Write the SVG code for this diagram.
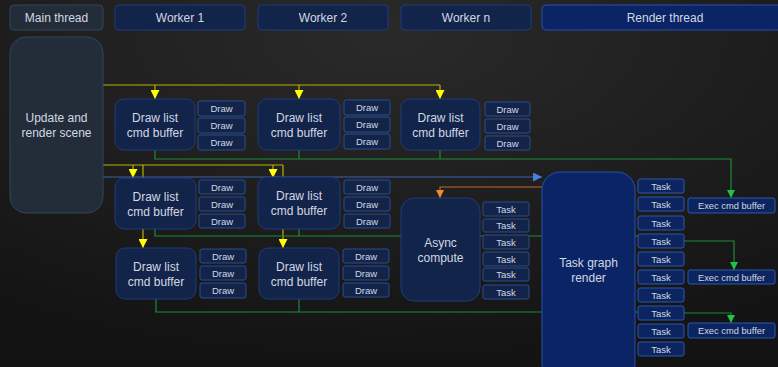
<svg xmlns="http://www.w3.org/2000/svg" width="778" height="367" viewBox="0 0 778 367">
  <defs>
    <radialGradient id="bg" cx="0.5" cy="0.1" r="0.9">
      <stop offset="0" stop-color="#2a2a2a"/>
      <stop offset="1" stop-color="#131313"/>
    </radialGradient>
    <marker id="arrY" viewBox="0 0 10 10" refX="10" refY="5" markerWidth="9" markerHeight="9" markerUnits="userSpaceOnUse" orient="auto">
      <path d="M0,0 L10,5 L0,10 Z" fill="#ffff00"/>
    </marker>
    <marker id="arrG" viewBox="0 0 10 10" refX="10" refY="5" markerWidth="8" markerHeight="8" markerUnits="userSpaceOnUse" orient="auto">
      <path d="M0,0 L10,5 L0,10 Z" fill="#22c24a"/>
    </marker>
    <marker id="arrB" viewBox="0 0 10 10" refX="10" refY="5" markerWidth="9" markerHeight="9" markerUnits="userSpaceOnUse" orient="auto">
      <path d="M0,0 L10,5 L0,10 Z" fill="#4a7fe0"/>
    </marker>
    <marker id="arrO" viewBox="0 0 10 10" refX="10" refY="5" markerWidth="8" markerHeight="8" markerUnits="userSpaceOnUse" orient="auto">
      <path d="M0,0 L10,5 L0,10 Z" fill="#f08a30"/>
    </marker>
  </defs>
  <style>
    text { font-family: "Liberation Sans", Arial, sans-serif; fill: #d2d8e2; text-anchor: middle; }
    .hdr { font-size: 12px; }
    .big { font-size: 12px; }
    .sm { font-size: 9.5px; }
    .ex { font-size: 9.3px; }
    .main { fill: #232d3a; stroke: #34445a; stroke-width: 1; }
    .worker { fill: #13244a; stroke: #1f3c78; stroke-width: 1; }
    .render { fill: #0a2466; stroke: #2a4fa6; stroke-width: 1; }
    .item { fill: #13244a; stroke: #2a4d8f; stroke-width: 1; }
    .ritem { fill: #0c2560; stroke: #2f56a8; stroke-width: 1; }
    .y { fill: none; stroke: #b8b400; stroke-width: 1.2; }
    .g { fill: none; stroke: #1e8a3a; stroke-width: 1.2; }
    .b { fill: none; stroke: #3a62b0; stroke-width: 1.2; }
    .o { fill: none; stroke: #c06a2a; stroke-width: 1.2; }
  </style>

  <rect x="0" y="0" width="778" height="367" fill="url(#bg)"/>

  <g id="connectors">
    <!-- main thread fan-out to first row of workers -->
    <path class="y" d="M103,85 H440"/>
    <path class="y" d="M155,85 V99" marker-end="url(#arrY)"/>
    <path class="y" d="M299,85 V99" marker-end="url(#arrY)"/>
    <path class="y" d="M440,85 V99" marker-end="url(#arrY)"/>
    <!-- main thread fan-out to second and third rows -->
    <path class="y" d="M103,165 H283"/>
    <path class="y" d="M133,165 V178" marker-end="url(#arrY)"/>
    <path class="y" d="M273,165 V178" marker-end="url(#arrY)"/>
    <path class="y" d="M143,165 V248" marker-end="url(#arrY)"/>
    <path class="y" d="M283,165 V248" marker-end="url(#arrY)"/>
    <!-- main thread to render thread -->
    <path class="b" d="M103,177 H542" marker-end="url(#arrB)"/>
    <!-- render thread kicks async compute -->
    <path class="o" d="M542,187 H440 V198" marker-end="url(#arrO)"/>
    <!-- first row results to exec cmd buffer -->
    <path class="g" d="M155,150 V159 H731 V198" marker-end="url(#arrG)"/>
    <path class="g" d="M299,150 V159"/>
    <path class="g" d="M440,150 V159"/>
    <!-- second row results -->
    <path class="g" d="M155,229 V236 H638"/>
    <path class="g" d="M299,229 V236"/>
    <!-- third row results -->
    <path class="g" d="M156,299 V312 H638"/>
    <path class="g" d="M299,299 V312"/>
    <!-- tasks to exec cmd buffers -->
    <path class="g" d="M684,241 H734 V270" marker-end="url(#arrG)"/>
    <path class="g" d="M684,313 H731 V323" marker-end="url(#arrG)"/>
  </g>

  <!-- column headers -->
  <g id="hdr-main"><rect class="main" x="10" y="5" width="93" height="25" rx="4"/><text class="hdr" x="56.5" y="22">Main thread</text></g>
  <g id="hdr-worker1"><rect class="worker" x="115" y="5" width="130" height="25" rx="4"/><text class="hdr" x="180" y="22">Worker 1</text></g>
  <g id="hdr-worker2"><rect class="worker" x="258" y="5" width="130" height="25" rx="4"/><text class="hdr" x="323" y="22">Worker 2</text></g>
  <g id="hdr-workern"><rect class="worker" x="401" y="5" width="130" height="25" rx="4"/><text class="hdr" x="466" y="22">Worker n</text></g>
  <g id="hdr-render"><rect class="render" x="542" y="5" width="245" height="25" rx="4"/><text class="hdr" x="665" y="22">Render thread</text></g>

  <!-- main thread -->
  <g id="update-render-scene">
    <rect class="main" x="10" y="37" width="93" height="176" rx="16"/>
    <text class="big" x="56.5" y="122">Update and</text>
    <text class="big" x="56.5" y="137">render scene</text>
  </g>

  <!-- worker 1 -->
  <g id="w1-r1">
    <rect class="worker" x="115" y="99" width="80" height="51" rx="9"/>
    <text class="big" x="155" y="122">Draw list</text><text class="big" x="155" y="137">cmd buffer</text>
    <rect class="item" x="198" y="101" width="47" height="15" rx="2"/><text class="sm" x="221.5" y="112">Draw</text>
    <rect class="item" x="198" y="118" width="47" height="15" rx="2"/><text class="sm" x="221.5" y="129">Draw</text>
    <rect class="item" x="198" y="135" width="47" height="15" rx="2"/><text class="sm" x="221.5" y="146">Draw</text>
  </g>
  <g id="w1-r2">
    <rect class="worker" x="115" y="178" width="81" height="51" rx="9"/>
    <text class="big" x="155.5" y="201">Draw list</text><text class="big" x="155.5" y="216">cmd buffer</text>
    <rect class="item" x="199" y="180" width="46" height="14" rx="2"/><text class="sm" x="222" y="190.5">Draw</text>
    <rect class="item" x="199" y="197" width="46" height="14" rx="2"/><text class="sm" x="222" y="207.5">Draw</text>
    <rect class="item" x="199" y="214" width="46" height="14" rx="2"/><text class="sm" x="222" y="224.5">Draw</text>
  </g>
  <g id="w1-r3">
    <rect class="worker" x="116" y="248" width="80" height="51" rx="9"/>
    <text class="big" x="156" y="271">Draw list</text><text class="big" x="156" y="286">cmd buffer</text>
    <rect class="item" x="200" y="249" width="46" height="14" rx="2"/><text class="sm" x="223" y="259.5">Draw</text>
    <rect class="item" x="200" y="266" width="46" height="14" rx="2"/><text class="sm" x="223" y="276.5">Draw</text>
    <rect class="item" x="200" y="283" width="46" height="15" rx="2"/><text class="sm" x="223" y="294">Draw</text>
  </g>

  <!-- worker 2 -->
  <g id="w2-r1">
    <rect class="worker" x="258" y="99" width="82" height="51" rx="9"/>
    <text class="big" x="299" y="122">Draw list</text><text class="big" x="299" y="137">cmd buffer</text>
    <rect class="item" x="344" y="100" width="46" height="15" rx="2"/><text class="sm" x="367" y="111">Draw</text>
    <rect class="item" x="344" y="117" width="46" height="15" rx="2"/><text class="sm" x="367" y="128">Draw</text>
    <rect class="item" x="344" y="134" width="46" height="15" rx="2"/><text class="sm" x="367" y="145">Draw</text>
  </g>
  <g id="w2-r2">
    <rect class="worker" x="258" y="177" width="82" height="52" rx="9"/>
    <text class="big" x="299" y="200">Draw list</text><text class="big" x="299" y="215">cmd buffer</text>
    <rect class="item" x="344" y="180" width="46" height="14" rx="2"/><text class="sm" x="367" y="190.5">Draw</text>
    <rect class="item" x="344" y="197" width="46" height="14" rx="2"/><text class="sm" x="367" y="207.5">Draw</text>
    <rect class="item" x="344" y="214" width="46" height="14" rx="2"/><text class="sm" x="367" y="224.5">Draw</text>
  </g>
  <g id="w2-r3">
    <rect class="worker" x="259" y="248" width="80" height="51" rx="9"/>
    <text class="big" x="299" y="271">Draw list</text><text class="big" x="299" y="286">cmd buffer</text>
    <rect class="item" x="343" y="249" width="46" height="14" rx="2"/><text class="sm" x="366" y="259.5">Draw</text>
    <rect class="item" x="343" y="266" width="46" height="14" rx="2"/><text class="sm" x="366" y="276.5">Draw</text>
    <rect class="item" x="343" y="283" width="46" height="14" rx="2"/><text class="sm" x="366" y="293.5">Draw</text>
  </g>

  <!-- worker n -->
  <g id="wn-r1">
    <rect class="worker" x="401" y="99" width="79" height="51" rx="9"/>
    <text class="big" x="440.5" y="122">Draw list</text><text class="big" x="440.5" y="137">cmd buffer</text>
    <rect class="item" x="485" y="102" width="45" height="14" rx="2"/><text class="sm" x="507.5" y="112.5">Draw</text>
    <rect class="item" x="485" y="119" width="45" height="14" rx="2"/><text class="sm" x="507.5" y="129.5">Draw</text>
    <rect class="item" x="485" y="136" width="45" height="14" rx="2"/><text class="sm" x="507.5" y="146.5">Draw</text>
  </g>
  <g id="async-compute">
    <rect class="worker" x="401" y="198" width="79" height="103" rx="13"/>
    <text class="big" x="440.5" y="247">Async</text><text class="big" x="440.5" y="262">compute</text>
    <rect class="item" x="483" y="202" width="46" height="14" rx="2"/><text class="sm" x="506" y="212.5">Task</text>
    <rect class="item" x="483" y="219" width="46" height="13" rx="2"/><text class="sm" x="506" y="229">Task</text>
    <rect class="item" x="483" y="235" width="46" height="14" rx="2"/><text class="sm" x="506" y="245.5">Task</text>
    <rect class="item" x="483" y="252" width="46" height="14" rx="2"/><text class="sm" x="506" y="262.5">Task</text>
    <rect class="item" x="483" y="268" width="46" height="13" rx="2"/><text class="sm" x="506" y="278">Task</text>
    <rect class="item" x="483" y="285" width="46" height="14" rx="2"/><text class="sm" x="506" y="295.5">Task</text>
  </g>

  <!-- render thread -->
  <g id="task-graph-render">
    <rect class="render" x="542" y="172" width="93" height="210" rx="18"/>
    <text class="big" x="588.5" y="267">Task graph</text><text class="big" x="588.5" y="282">render</text>
  </g>
  <g id="render-tasks">
    <rect class="ritem" x="638" y="179" width="46" height="14" rx="2"/><text class="sm" x="661" y="189.5">Task</text>
    <rect class="ritem" x="638" y="197" width="46" height="14" rx="2"/><text class="sm" x="661" y="207.5">Task</text>
    <rect class="ritem" x="638" y="216" width="46" height="14" rx="2"/><text class="sm" x="661" y="226.5">Task</text>
    <rect class="ritem" x="638" y="234" width="46" height="14" rx="2"/><text class="sm" x="661" y="244.5">Task</text>
    <rect class="ritem" x="638" y="252" width="46" height="14" rx="2"/><text class="sm" x="661" y="262.5">Task</text>
    <rect class="ritem" x="638" y="270" width="46" height="14" rx="2"/><text class="sm" x="661" y="280.5">Task</text>
    <rect class="ritem" x="638" y="288" width="46" height="14" rx="2"/><text class="sm" x="661" y="298.5">Task</text>
    <rect class="ritem" x="638" y="306" width="46" height="14" rx="2"/><text class="sm" x="661" y="316.5">Task</text>
    <rect class="ritem" x="638" y="324" width="46" height="14" rx="2"/><text class="sm" x="661" y="334.5">Task</text>
    <rect class="ritem" x="638" y="342" width="46" height="14" rx="2"/><text class="sm" x="661" y="352.5">Task</text>
  </g>
  <g id="exec-1"><rect class="ritem" x="688" y="198" width="87" height="15" rx="2"/><text class="ex" x="731.5" y="209">Exec cmd buffer</text></g>
  <g id="exec-2"><rect class="ritem" x="688" y="270" width="87" height="14" rx="2"/><text class="ex" x="731.5" y="280.5">Exec cmd buffer</text></g>
  <g id="exec-3"><rect class="ritem" x="688" y="323" width="87" height="15" rx="2"/><text class="ex" x="731.5" y="334">Exec cmd buffer</text></g>
</svg>
